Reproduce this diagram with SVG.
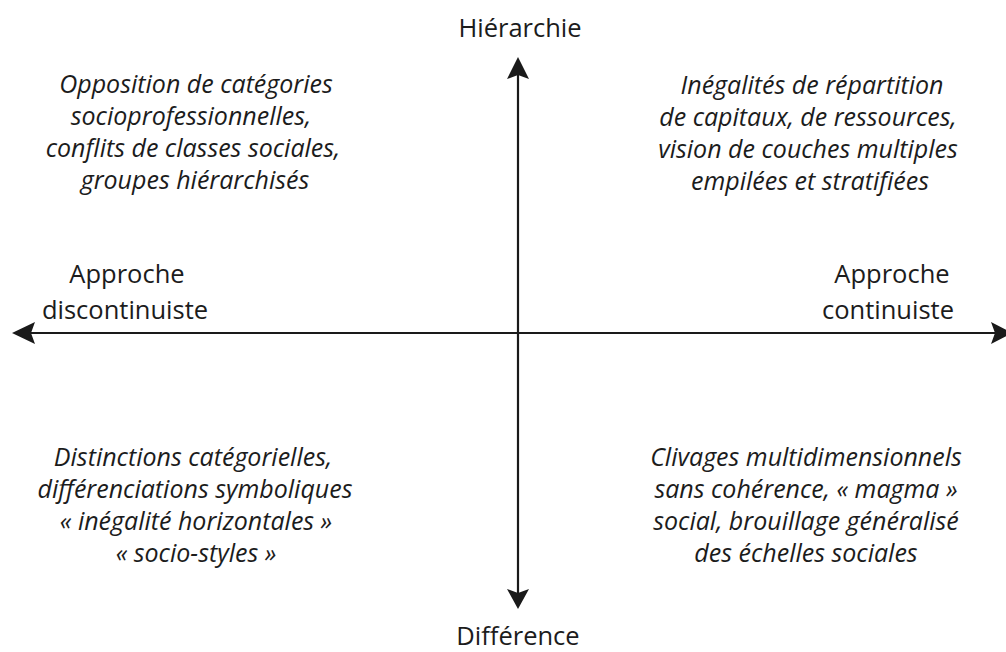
<svg xmlns="http://www.w3.org/2000/svg" width="1006" height="652" viewBox="0 0 1006 652">
<style>
text{font-family:"Open Sans","Liberation Sans",sans-serif;fill:#1c1c1c;text-anchor:middle}
.ax{font-size:25.5px}
.q{font-size:25px;font-style:italic}
.ln{stroke:#1a1a1a;stroke-width:2.2;fill:none}
.ah{fill:#1a1a1a}
</style>
<rect width="1006" height="652" fill="#fff"/>
<g id="connectors">
<line class="ln" x1="518" y1="333" x2="518" y2="70"/>
<line class="ln" x1="518" y1="333" x2="518" y2="598"/>
<line class="ln" x1="518" y1="333" x2="25" y2="333"/>
<line class="ln" x1="518" y1="333" x2="1000" y2="333"/>
<path class="ah" d="M518,57 L507,79 L518,75 L529,79 Z"/>
<path class="ah" d="M518,609 L507,589 L518,593 L529,589 Z"/>
<path class="ah" d="M12,333 L35,322 L31,333 L35,344 Z"/>
<path class="ah" d="M1012,333 L991,322 L995,333 L991,344 Z"/>
</g>
<g id="hierarchie"><text class="ax" x="520" y="37">Hiérarchie</text></g>
<g id="difference"><text class="ax" x="518" y="645">Différence</text></g>
<g id="discontinuiste"><text class="ax" x="127" y="283">Approche</text><text class="ax" x="125" y="319">discontinuiste</text></g>
<g id="continuiste"><text class="ax" x="892" y="283">Approche</text><text class="ax" x="888" y="319">continuiste</text></g>
<g id="q-top-left">
<text class="q" x="196" y="93">Opposition de catégories</text>
<text class="q" x="191" y="125">socioprofessionnelles,</text>
<text class="q" x="193" y="157">conflits de classes sociales,</text>
<text class="q" x="195" y="189">groupes hiérarchisés</text>
</g>
<g id="q-top-right">
<text class="q" x="812" y="94">Inégalités de répartition</text>
<text class="q" x="808" y="126">de capitaux, de ressources,</text>
<text class="q" x="808" y="158">vision de couches multiples</text>
<text class="q" x="810" y="190">empilées et stratifiées</text>
</g>
<g id="q-bottom-left">
<text class="q" x="193" y="466">Distinctions catégorielles,</text>
<text class="q" x="195" y="498">différenciations symboliques</text>
<text class="q" x="196" y="530">« inégalité horizontales »</text>
<text class="q" x="196" y="562">« socio-styles »</text>
</g>
<g id="q-bottom-right">
<text class="q" x="806" y="466">Clivages multidimensionnels</text>
<text class="q" x="806" y="498">sans cohérence, « magma »</text>
<text class="q" x="806" y="530">social, brouillage généralisé</text>
<text class="q" x="806" y="562">des échelles sociales</text>
</g>
</svg>
